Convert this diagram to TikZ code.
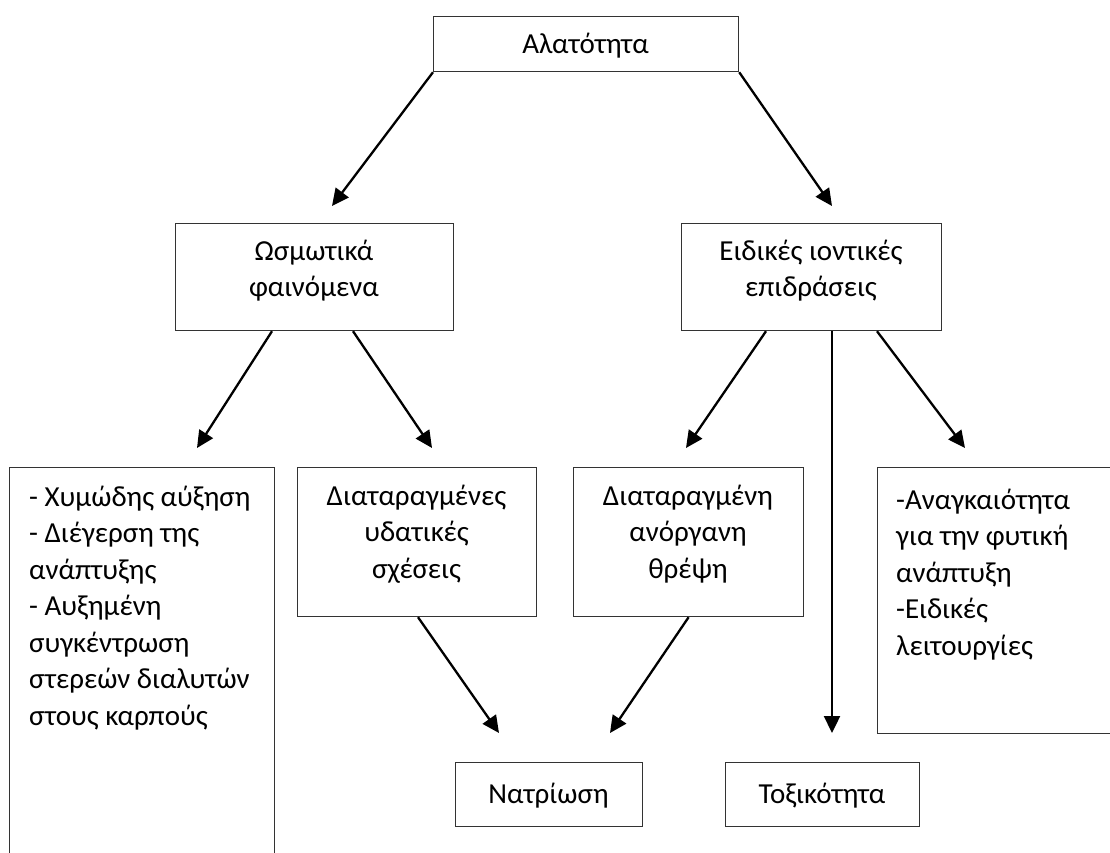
\documentclass[tikz,border=0pt]{standalone}
\usepackage{fontspec}
\setmainfont{Carlito}
\usetikzlibrary{arrows.meta,calc}
\newcommand\fnt{\fontsize{29pt}{36.5pt}\selectfont}
\newcommand\fs{\rule{0pt}{24pt}}
\begin{document}
\begin{tikzpicture}[x=1pt,y=-1pt,
  box/.style={draw=black!80, line width=1.2pt, anchor=north west, inner sep=0pt},
  txt/.style={inner sep=0pt, anchor=north, align=center, font=\fnt},
  txtl/.style={inner sep=0pt, anchor=north west, align=left, font=\fnt},
  arr/.style={line width=2.3pt, -{Triangle[length=17pt,width=16pt]}}]
\useasboundingbox (0,0) rectangle (1110,852);
\clip (0,0) rectangle (1110,852);
\fill[white] (0,0) rectangle (1110,852);

% boxes
\node[box, minimum width=305pt, minimum height=55pt]  (sal) at (433,16) {};
\node[box, minimum width=278pt, minimum height=107pt] (osm) at (175,223) {};
\node[box, minimum width=260pt, minimum height=107pt] (eid) at (681,223) {};
\node[box, minimum width=265pt, minimum height=420pt] (lft) at (9,467) {};
\node[box, minimum width=239pt, minimum height=149pt] (dys) at (297,467) {};
\node[box, minimum width=230pt, minimum height=149pt] (dan) at (573,467) {};
\node[box, minimum width=260pt, minimum height=266pt] (rgt) at (877,467) {};
\node[box, minimum width=187pt, minimum height=64pt]  (nat) at (455,762) {};
\node[box, minimum width=194pt, minimum height=64pt]  (tox) at (725,762) {};

% texts
\node[txt] (tsal) at (585.5,29) {\fs Αλατότητα};
\node[txt] (tosm) at (314,236) {\fs Ωσμωτικά\\φαινόμενα};
\node[txt] (teid) at (811,236) {\fs Ειδικές ιοντικές\\επιδράσεις};
\node[txtl] (tlft) at (29,482) {\fs - Χυμώδης αύξηση\\- Διέγερση της\\ανάπτυξης\\- Αυξημένη\\συγκέντρωση\\στερεών διαλυτών\\στους καρπούς};
\node[txt] (tdys) at (416.5,481) {\fs Διαταραγμένες\\υδατικές\\σχέσεις};
\node[txt] (tdan) at (688,481) {\fs Διαταραγμένη\\ανόργανη\\θρέψη};
\node[txtl] (trgt) at (896,485) {\fs -Αναγκαιότητα\\για την φυτική\\ανάπτυξη\\-Ειδικές\\λειτουργίες};
\node[txt] (tnat) at (548.5,779) {\fs Νατρίωση};
\node[txt] (ttox) at (822,779) {\fs Τοξικότητα};

% arrow tips (free ends)
\coordinate (e1) at (332,206);
\coordinate (e2) at (832,206);
\coordinate (e3) at (197,448);
\coordinate (e4) at (432,448);
\coordinate (e5) at (686,448);
\coordinate (e6) at (832,733);
\coordinate (e7) at (965,448);
\coordinate (e8) at (499,733);
\coordinate (e9) at (610,733);

% connectors
\draw[arr] (sal.south west) -- (e1);
\draw[arr] (sal.south east) -- (e2);
\draw[arr] ($(osm.south west)+(97,0)$) -- (e3);
\draw[arr] ($(osm.south west)+(178,0)$) -- (e4);
\draw[arr] ($(eid.south west)+(85,0)$) -- (e5);
\draw[arr] ($(eid.south west)+(151,0)$) -- (e6);
\draw[arr] ($(eid.south west)+(196,0)$) -- (e7);
\draw[arr] ($(dys.south west)+(121,0)$) -- (e8);
\draw[arr] (dan.south) -- (e9);
\end{tikzpicture}
\end{document}
